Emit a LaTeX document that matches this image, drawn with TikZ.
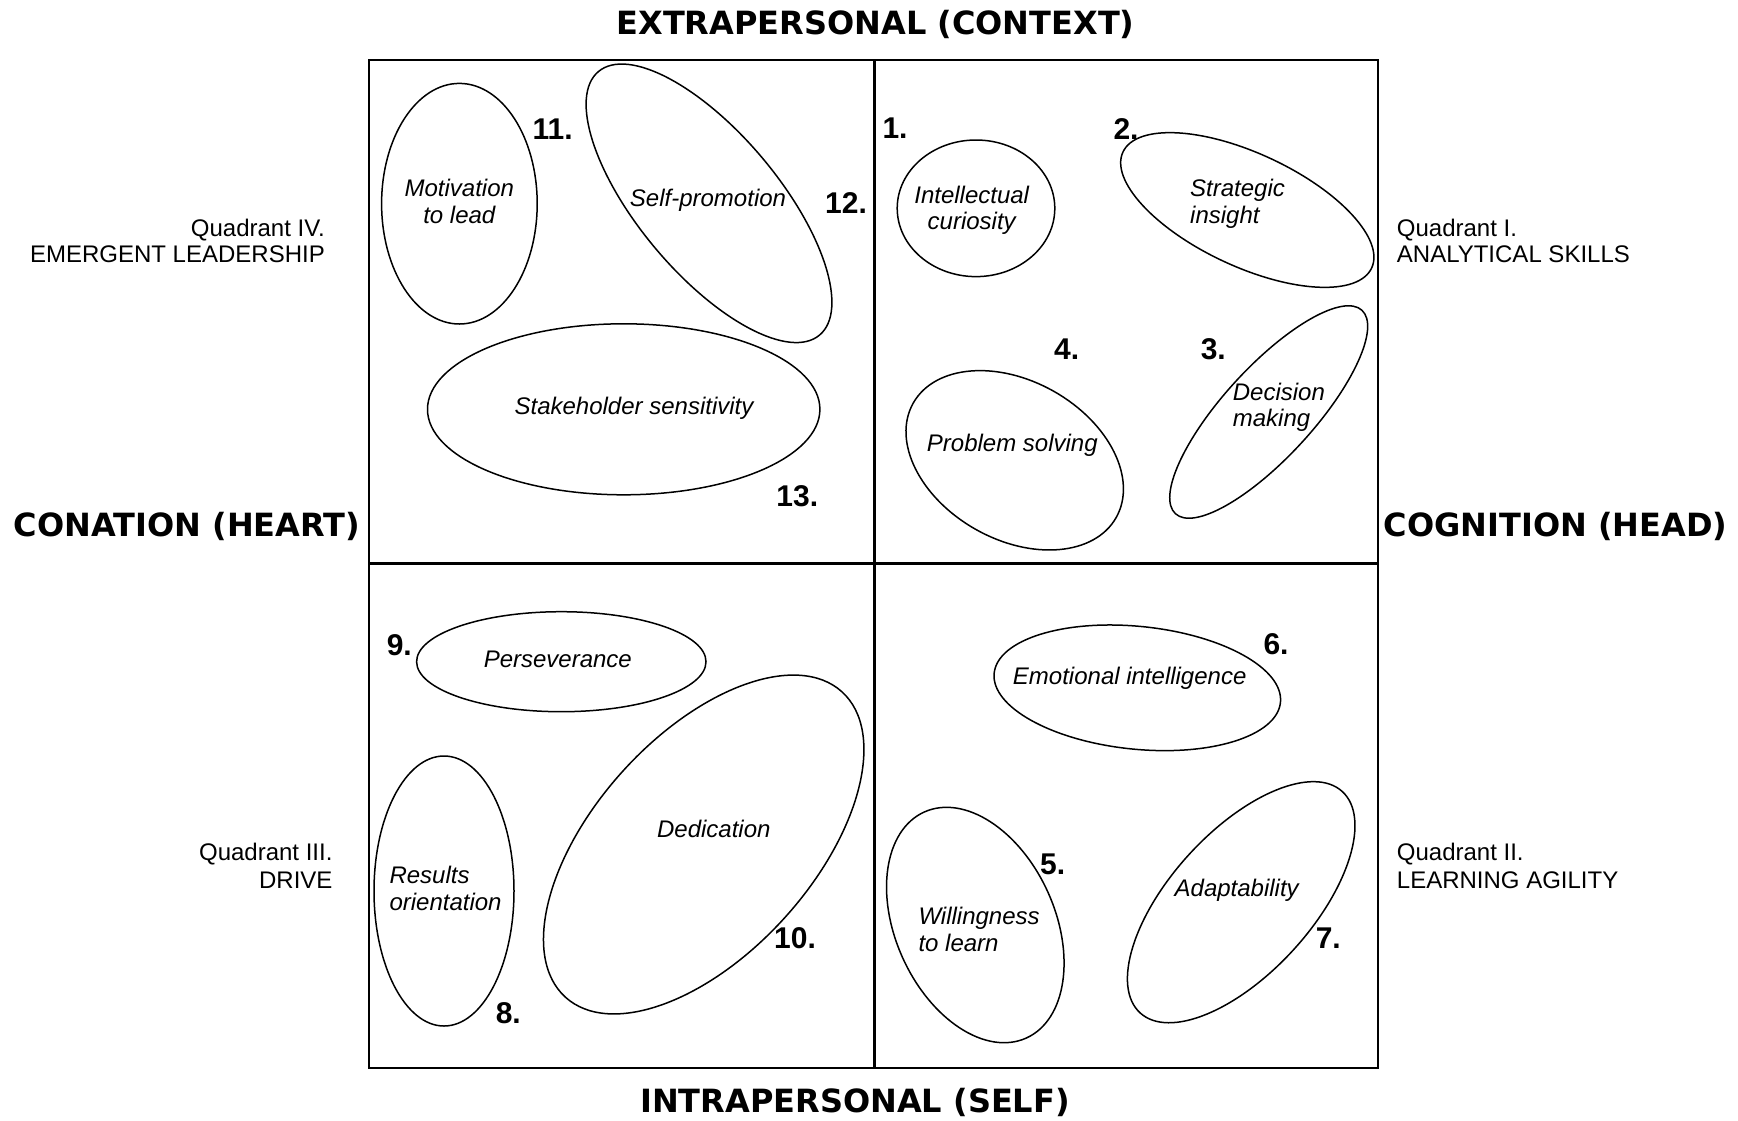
\documentclass[tikz,border=0pt]{standalone}
\usepackage{fontspec}
\setmainfont{Liberation Sans}
\newfontfamily\headfont{DejaVu Sans}
\usetikzlibrary{shapes.geometric}
\tikzset{
  oval/.style={draw, ellipse, line width=1.5pt, inner sep=0pt, minimum width=#1},
  itxt/.style={font=\fontsize{24}{27}\selectfont\itshape, inner sep=0pt, anchor=base},
  qtxt/.style={font=\fontsize{24}{27}\selectfont, inner sep=0pt},
  numtxt/.style={font=\fontsize{30}{34}\selectfont\bfseries, inner sep=0pt, anchor=base},
  headtxt/.style={font=\fontsize{32}{36}\selectfont\headfont\bfseries, inner sep=0pt, anchor=base},
}
\begin{document}
\begin{tikzpicture}[x=1pt,y=1pt]
\useasboundingbox (0,0) rectangle (1738,-1120);
% frame
\coordinate (tl) at (369,-60);
\coordinate (br) at (1378,-1068);
\coordinate (mt) at (874,-60);
\coordinate (mb) at (874,-1068);
\coordinate (ml) at (369,-563);
\coordinate (mr) at (1378,-563);
\draw[line width=2pt] (tl) rectangle (br);
\draw[line width=3pt] (mt) -- (mb);
\draw[line width=3pt] (ml) -- (mr);

% headings
\node[headtxt] (hTop) at (875.5,-34) {EXTRAPERSONAL (CONTEXT)};
\node[headtxt] (hBot) at (855,-1112.7) {INTRAPERSONAL (SELF)};
\node[headtxt] (hLeft) at (187,-536) {CONATION (HEART)};
\node[headtxt] (hRight) at (1555.5,-536) {COGNITION (HEAD)};

% quadrant labels
\node[qtxt, anchor=base east] (q4a) at (325,-236) {Quadrant IV.};
\node[qtxt, anchor=base east] (q4b) at (325,-262.7) {EMERGENT LEADERSHIP};
\node[qtxt, anchor=base west] (q1a) at (1396.7,-236) {Quadrant I.};
\node[qtxt, anchor=base west] (q1b) at (1396.7,-262.7) {ANALYTICAL SKILLS};
\node[qtxt, anchor=base east] (q3a) at (332.7,-860) {Quadrant III.};
\node[qtxt, anchor=base east] (q3b) at (332.7,-888.3) {DRIVE};
\node[qtxt, anchor=base west] (q2a) at (1396.7,-860) {Quadrant II.};
\node[qtxt, anchor=base west] (q2b) at (1396.7,-888.3) {LEARNING AGILITY};

% Quadrant IV ellipses
\node[oval=155.6pt, minimum height=240.6pt] (eMot) at (459.4,-203.7) {};
\node[oval=344pt, minimum height=140pt, rotate=-50] (eSelf) at (709,-203.3) {};
\node[oval=392.4pt, minimum height=171pt] (eStake) at (623.7,-409.3) {};
\node[itxt] (tMot1) at (459.3,-196.7) {Motivation};
\node[itxt] (tMot2) at (459.3,-223.3) {to lead};
\node[itxt] (tSelf) at (708,-206) {Self-promotion};
\node[itxt] (tStake) at (634,-414) {Stakeholder sensitivity};
\node[numtxt] (n11) at (552.7,-139.3) {11.};
\node[numtxt] (n12) at (846,-213.3) {12.};
\node[numtxt] (n13) at (797.3,-506.7) {13.};

% Quadrant I ellipses
\node[oval=157.6pt, minimum height=136.6pt] (eCur) at (976,-208.3) {};
\node[oval=274.4pt, minimum height=113pt, rotate=-25] (eStrat) at (1247.3,-210) {};
\node[oval=276pt, minimum height=90pt, rotate=47.5] (eDec) at (1268.7,-412) {};
\node[oval=233pt, minimum height=158.6pt, rotate=-29.4] (eProb) at (1014.7,-460.3) {};
\node[itxt] (tCur1) at (971.7,-203.3) {Intellectual};
\node[itxt] (tCur2) at (971.7,-229.3) {curiosity};
\node[itxt, anchor=base west] (tStrat1) at (1190,-196.7) {Strategic};
\node[itxt, anchor=base west] (tStrat2) at (1190,-223.3) {insight};
\node[itxt, anchor=base west] (tDec1) at (1232.7,-400.7) {Decision};
\node[itxt, anchor=base west] (tDec2) at (1232.7,-426.7) {making};
\node[itxt] (tProb) at (1012.3,-451.7) {Problem solving};
\node[numtxt] (n1) at (895,-138.3) {1.};
\node[numtxt] (n2) at (1126,-139.3) {2.};
\node[numtxt] (n3) at (1213.3,-359.3) {3.};
\node[numtxt] (n4) at (1066.7,-359.3) {4.};

% Quadrant III ellipses
\node[oval=289.4pt, minimum height=100pt] (ePers) at (561.3,-661.7) {};
\node[oval=412pt, minimum height=218.4pt, rotate=47.85] (eDed) at (703.7,-844.5) {};
\node[oval=140pt, minimum height=270pt] (eRes) at (444,-891) {};
\node[itxt] (tPers) at (557.8,-667.3) {Perseverance};
\node[itxt] (tDed) at (713.8,-837.3) {Dedication};
\node[itxt, anchor=base west] (tRes1) at (389.3,-883.3) {Results};
\node[itxt, anchor=base west] (tRes2) at (389.3,-910.7) {orientation};
\node[numtxt] (n9) at (399.3,-655) {9.};
\node[numtxt] (n10) at (795,-948.3) {10.};
\node[numtxt] (n8) at (508.3,-1023.3) {8.};

% Quadrant II ellipses
\node[oval=287.8pt, minimum height=122.8pt, rotate=-5.84] (eEmo) at (1137.3,-687.8) {};
\node[oval=248pt, minimum height=159.4pt, rotate=-65.7] (eWill) at (975.3,-925) {};
\node[oval=299.8pt, minimum height=141.4pt, rotate=47.6] (eAdapt) at (1241.2,-902.2) {};
\node[itxt] (tEmo) at (1129.7,-684) {Emotional intelligence};
\node[itxt, anchor=base west] (tWill1) at (918.3,-924.3) {Willingness};
\node[itxt, anchor=base west] (tWill2) at (918.3,-951.7) {to learn};
\node[itxt] (tAdapt) at (1236.7,-896.7) {Adaptability};
\node[numtxt] (n6) at (1276,-654.3) {6.};
\node[numtxt] (n5) at (1052.7,-874) {5.};
\node[numtxt] (n7) at (1328.3,-948.3) {7.};
\end{tikzpicture}
\end{document}
